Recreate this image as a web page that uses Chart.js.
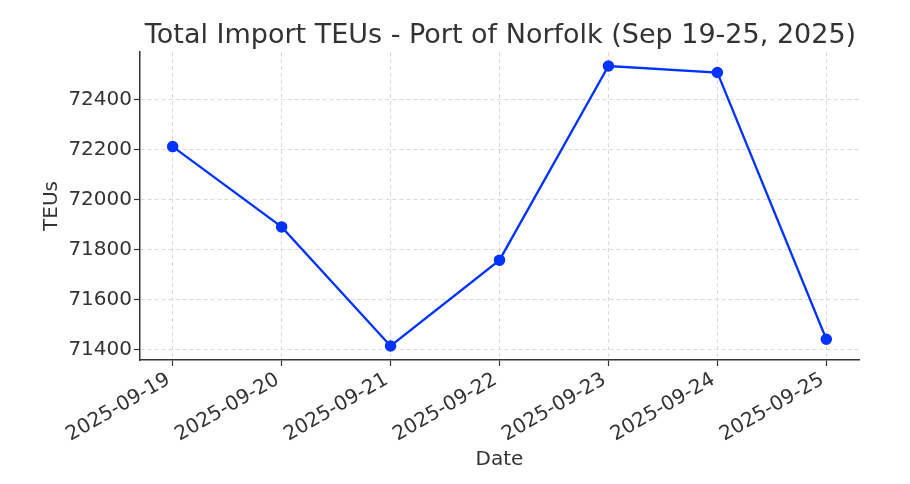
<!DOCTYPE html>
<html>
<head>
<meta charset="utf-8">
<script src="https://cdn.jsdelivr.net/npm/chart.js@4"></script>
<style>
html,body{margin:0;padding:0;background:#fff;}
#wrap{width:910px;height:484px;position:relative;}
</style>
</head>
<body>
<div id="wrap"><canvas id="c" width="910" height="484"></canvas></div>
<script>
const titleText = "Total Import TEUs - Port of Norfolk (Sep 19-25, 2025)";
const dates = ["2025-09-19","2025-09-20","2025-09-21","2025-09-22","2025-09-23","2025-09-24","2025-09-25"];
const teus = [72213, 71892, 71416, 71759, 72535, 72509, 71443];
const yTicks = [71400, 71600, 71800, 72000, 72200, 72400];

const FONT = "'DejaVu Sans', sans-serif";
const TXT = '#333333';

const titlePlugin = {
  id: 'ctitle',
  afterDraw(chart) {
    const ctx = chart.ctx, a = chart.chartArea;
    ctx.save();
    ctx.font = "27px " + FONT;
    ctx.fillStyle = TXT;
    ctx.textAlign = 'center';
    ctx.textBaseline = 'alphabetic';
    ctx.fillText(titleText, (a.left + a.right) / 2 + 1, 43);
    ctx.restore();
  }
};

const gridOpts = {color: '#cfcfcf', lineWidth: 0.8, tickColor: '#333', tickBorderDash: [], tickLength: 6, tickWidth: 1.2};
const borderOpts = {display: true, color: '#333', width: 1.5, dash: [4, 3]};

new Chart(document.getElementById('c'), {
  type: 'line',
  data: {
    datasets: [{
      data: dates.map((d, i) => ({x: i, y: teus[i]})),
      borderColor: '#0033ff',
      backgroundColor: '#0033ff',
      borderWidth: 2.3,
      pointRadius: 4.6,
      pointHoverRadius: 4.6,
      tension: 0
    }]
  },
  options: {
    responsive: false,
    animation: false,
    layout: {padding: {top: 52, right: 51, left: 30, bottom: 10}},
    plugins: {legend: {display: false}, tooltip: {enabled: false}},
    scales: {
      x: {
        type: 'linear',
        min: -0.3, max: 6.3,
        afterFit(s) { s.height = 114; },
        ticks: {
          stepSize: 1, includeBounds: false, autoSkip: false,
          maxRotation: 30, minRotation: 30,
          font: {family: FONT, size: 20}, color: TXT, padding: 2, labelOffset: -4,
          callback: v => (Number.isInteger(v) && dates[v]) ? dates[v] : ''
        },
        grid: gridOpts,
        border: borderOpts,
        title: {display: true, text: 'Date', font: {family: FONT, size: 20}, color: TXT, padding: {top: 0, bottom: 2}}
      },
      y: {
        min: 71360, max: 72591,
        afterFit(s) { s.width = 110; },
        afterBuildTicks(s) { s.ticks = yTicks.map(v => ({value: v})); },
        ticks: {font: {family: FONT, size: 20}, color: TXT, padding: 2, callback: v => String(v)},
        grid: gridOpts,
        border: borderOpts,
        title: {display: true, text: 'TEUs', font: {family: FONT, size: 20}, color: TXT, padding: {top: 10, bottom: 0}}
      }
    }
  },
  plugins: [titlePlugin]
});
</script>
</body>
</html>
